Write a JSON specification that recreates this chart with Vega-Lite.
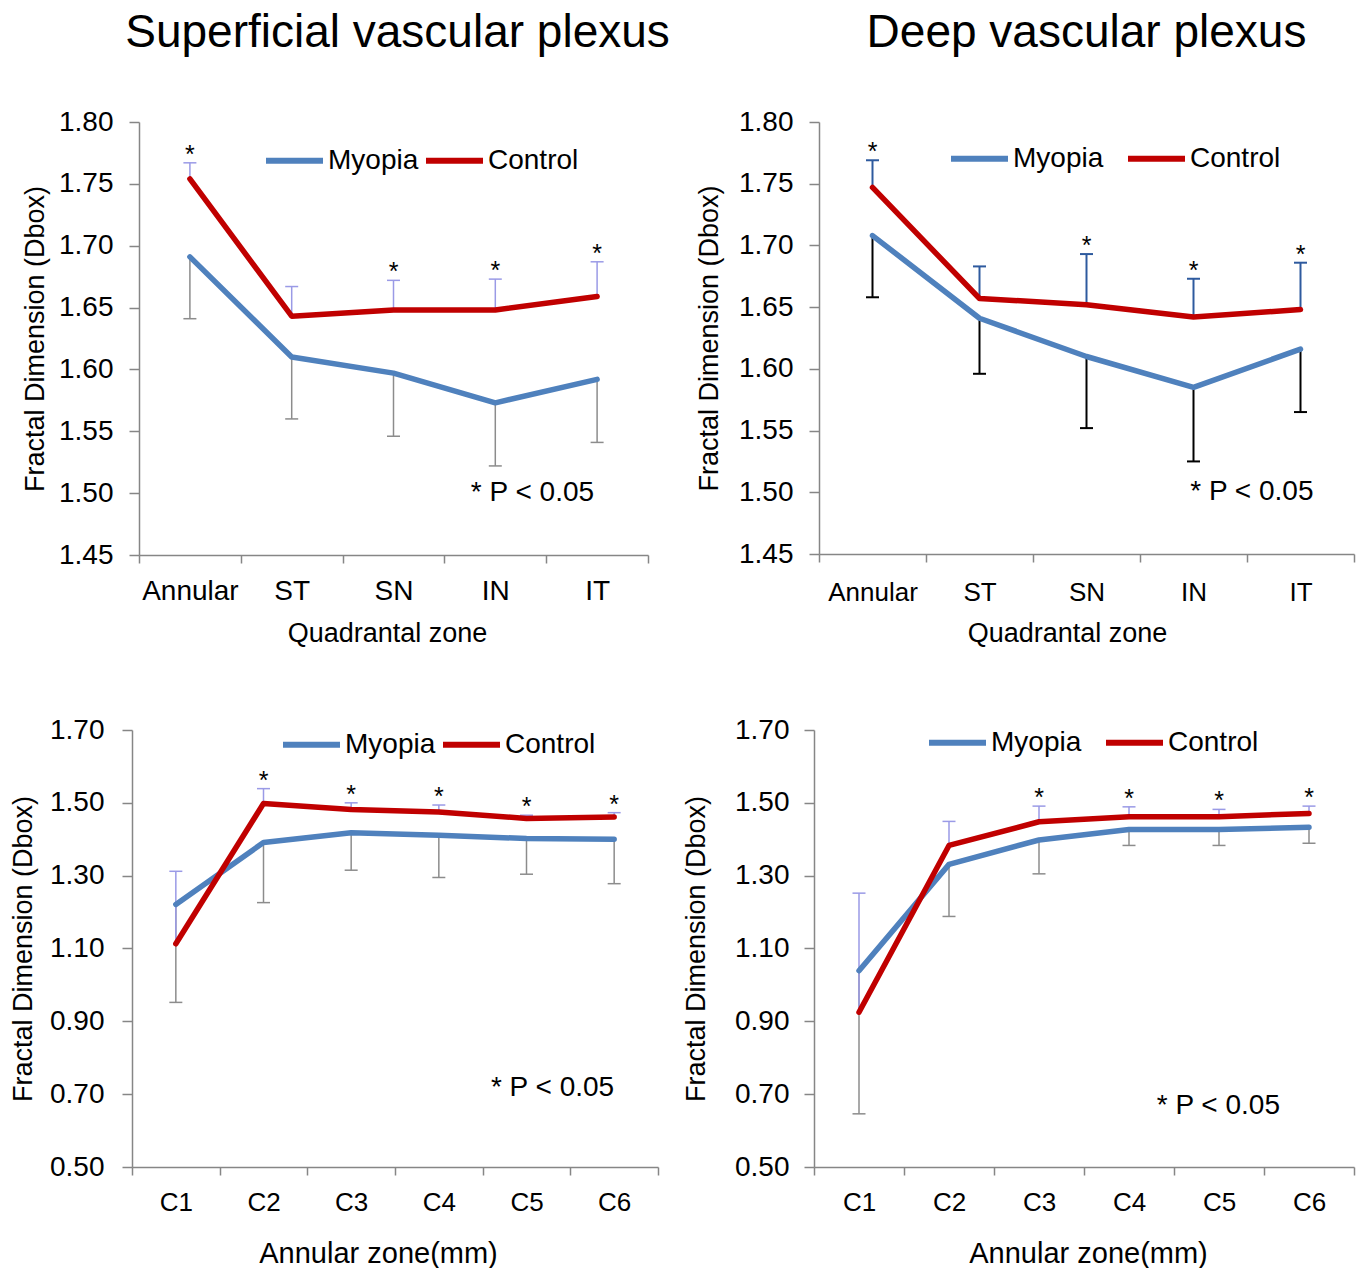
{
  "$schema": "https://vega.github.io/schema/vega-lite/v6.json",
  "background": "white",
  "padding": {"left": 8, "top": 10, "right": 0, "bottom": 0},
  "config": {
    "view": {"stroke": null},
    "font": "Liberation Sans",
    "axis": {"grid": false, "labelFont": "Liberation Sans", "labelFontSize": 28, "labelColor": "#000000",
             "titleFont": "Liberation Sans", "titleFontSize": 27, "titleFontWeight": "normal", "titleColor": "#000000",
             "domainColor": "#868686", "domainWidth": 1.5, "tickColor": "#868686", "tickWidth": 1.5},
    "title": {"font": "Liberation Sans", "fontSize": 46, "fontWeight": "normal", "color": "#000000", "frame": "group", "baseline": "alphabetic", "offset": 51},
    "legend": {"title": null, "symbolType": "stroke", "symbolSize": 3249, "symbolStrokeWidth": 6, "labelFontSize": 28, "labelFont": "Liberation Sans", "labelColor": "#000000", "labelOffset": 2, "padding": 0, "direction": "horizontal", "orient": "none"}
  },
  "datasets": {
    "svpq": [
      {"zone": "Annular", "group": "Myopia", "value": 1.691, "err": 1.641, "sig": ""},
      {"zone": "ST", "group": "Myopia", "value": 1.610, "err": 1.560, "sig": ""},
      {"zone": "SN", "group": "Myopia", "value": 1.597, "err": 1.546, "sig": ""},
      {"zone": "IN", "group": "Myopia", "value": 1.573, "err": 1.522, "sig": ""},
      {"zone": "IT", "group": "Myopia", "value": 1.592, "err": 1.541, "sig": ""},
      {"zone": "Annular", "group": "Control", "value": 1.754, "err": 1.767, "sig": "*"},
      {"zone": "ST", "group": "Control", "value": 1.643, "err": 1.667, "sig": ""},
      {"zone": "SN", "group": "Control", "value": 1.648, "err": 1.672, "sig": "*"},
      {"zone": "IN", "group": "Control", "value": 1.648, "err": 1.673, "sig": "*"},
      {"zone": "IT", "group": "Control", "value": 1.659, "err": 1.687, "sig": "*"}
    ],
    "dvpq": [
      {"zone": "Annular", "group": "Myopia", "value": 1.708, "err": 1.658, "sig": ""},
      {"zone": "ST", "group": "Myopia", "value": 1.641, "err": 1.596, "sig": ""},
      {"zone": "SN", "group": "Myopia", "value": 1.610, "err": 1.552, "sig": ""},
      {"zone": "IN", "group": "Myopia", "value": 1.585, "err": 1.525, "sig": ""},
      {"zone": "IT", "group": "Myopia", "value": 1.616, "err": 1.565, "sig": ""},
      {"zone": "Annular", "group": "Control", "value": 1.747, "err": 1.769, "sig": "*"},
      {"zone": "ST", "group": "Control", "value": 1.657, "err": 1.683, "sig": ""},
      {"zone": "SN", "group": "Control", "value": 1.652, "err": 1.693, "sig": "*"},
      {"zone": "IN", "group": "Control", "value": 1.642, "err": 1.673, "sig": "*"},
      {"zone": "IT", "group": "Control", "value": 1.648, "err": 1.686, "sig": "*"}
    ],
    "svpa": [
      {"zone": "C1", "group": "Myopia", "value": 1.221, "err": 0.952, "sig": ""},
      {"zone": "C2", "group": "Myopia", "value": 1.391, "err": 1.226, "sig": ""},
      {"zone": "C3", "group": "Myopia", "value": 1.418, "err": 1.315, "sig": ""},
      {"zone": "C4", "group": "Myopia", "value": 1.411, "err": 1.295, "sig": ""},
      {"zone": "C5", "group": "Myopia", "value": 1.402, "err": 1.304, "sig": ""},
      {"zone": "C6", "group": "Myopia", "value": 1.400, "err": 1.278, "sig": ""},
      {"zone": "C1", "group": "Control", "value": 1.113, "err": 1.312, "sig": ""},
      {"zone": "C2", "group": "Control", "value": 1.498, "err": 1.539, "sig": "*"},
      {"zone": "C3", "group": "Control", "value": 1.482, "err": 1.500, "sig": "*"},
      {"zone": "C4", "group": "Control", "value": 1.475, "err": 1.494, "sig": "*"},
      {"zone": "C5", "group": "Control", "value": 1.457, "err": 1.466, "sig": "*"},
      {"zone": "C6", "group": "Control", "value": 1.461, "err": 1.473, "sig": "*"}
    ],
    "dvpa": [
      {"zone": "C1", "group": "Myopia", "value": 1.039, "err": 0.646, "sig": ""},
      {"zone": "C2", "group": "Myopia", "value": 1.331, "err": 1.188, "sig": ""},
      {"zone": "C3", "group": "Myopia", "value": 1.398, "err": 1.305, "sig": ""},
      {"zone": "C4", "group": "Myopia", "value": 1.427, "err": 1.383, "sig": ""},
      {"zone": "C5", "group": "Myopia", "value": 1.427, "err": 1.383, "sig": ""},
      {"zone": "C6", "group": "Myopia", "value": 1.433, "err": 1.389, "sig": ""},
      {"zone": "C1", "group": "Control", "value": 0.925, "err": 1.252, "sig": ""},
      {"zone": "C2", "group": "Control", "value": 1.383, "err": 1.449, "sig": ""},
      {"zone": "C3", "group": "Control", "value": 1.448, "err": 1.491, "sig": "*"},
      {"zone": "C4", "group": "Control", "value": 1.462, "err": 1.489, "sig": "*"},
      {"zone": "C5", "group": "Control", "value": 1.462, "err": 1.482, "sig": "*"},
      {"zone": "C6", "group": "Control", "value": 1.471, "err": 1.491, "sig": "*"}
    ]
  },
  "columns": 2,
  "align": "none",
  "bounds": "flush",
  "spacing": {"row": 175, "column": 156},
  "resolve": {"scale": {"x": "independent", "y": "independent"}, "legend": {"color": "independent"}},
  "concat": [
    {
      "width": 531, "height": 433,
      "title": {"text": "Superficial vascular plexus"},
      "data": {"name": "svpq"},
      "encoding": {
        "x": {"field": "zone", "type": "nominal", "sort": ["Annular", "ST", "SN", "IN", "IT"],
              "scale": {"type": "band", "paddingInner": 0, "paddingOuter": 0, "range": [7, 516]},
              "axis": {"title": "Quadrantal zone", "labelAngle": 0, "tickBand": "extent", "tickSize": 8, "labelPadding": 14, "titleX": 255, "titleAlign": "center", "titleY": 78, "titleBaseline": "middle"}},
        "y": {"field": "value", "type": "quantitative", "scale": {"domain": [1.45, 1.8], "nice": false, "zero": false},
              "axis": {"title": "Fractal Dimension (Dbox)", "values": [1.45, 1.5, 1.55, 1.6, 1.65, 1.7, 1.75, 1.8], "format": ".2f", "tickSize": 10, "labelPadding": 16, "offset": -7, "titleX": -104, "titleBaseline": "middle"}}
      },
      "layer": [
        {"transform": [{"filter": "datum.group == 'Myopia'"}], "mark": {"type": "rule", "color": "#8C8C8C", "strokeWidth": 1.5}, "encoding": {"y2": {"field": "err"}}},
        {"transform": [{"filter": "datum.group == 'Myopia'"}], "mark": {"type": "point", "shape": "stroke", "size": 169, "color": "#8C8C8C", "strokeWidth": 1.5, "opacity": 1}, "encoding": {"y": {"field": "err", "type": "quantitative"}}},
        {"transform": [{"filter": "datum.group == 'Control'"}], "mark": {"type": "rule", "color": "#9A9AE6", "strokeWidth": 1.5}, "encoding": {"y2": {"field": "err"}}},
        {"transform": [{"filter": "datum.group == 'Control'"}], "mark": {"type": "point", "shape": "stroke", "size": 169, "color": "#9A9AE6", "strokeWidth": 1.5, "opacity": 1}, "encoding": {"y": {"field": "err", "type": "quantitative"}}},
        {"mark": {"type": "line", "strokeWidth": 5.5, "strokeCap": "round", "strokeJoin": "round"},
         "encoding": {"color": {"field": "group", "type": "nominal", "scale": {"domain": ["Myopia", "Control"], "range": ["#4F81BD", "#C00000"]},
                                "legend": {"legendX": 131, "legendY": 7, "columnPadding": -5}}}},
        {"transform": [{"filter": "datum.sig == '*'"}], "mark": {"type": "text", "fontSize": 25, "baseline": "alphabetic", "color": "#000000"}, "encoding": {"y": {"field": "err", "type": "quantitative"}, "text": {"field": "sig"}}},
        {"transform": [{"filter": "datum.zone == 'IT' && datum.group == 'Control'"}], "mark": {"type": "text", "text": "* P < 0.05", "fontSize": 28, "align": "right", "baseline": "middle", "dx": -3, "color": "#000000"},
         "encoding": {"y": {"datum": 1.5}}}
      ]
    },
    {
      "width": 535, "height": 432,
      "title": {"text": "Deep vascular plexus"},
      "data": {"name": "dvpq"},
      "encoding": {
        "x": {"field": "zone", "type": "nominal", "sort": ["Annular", "ST", "SN", "IN", "IT"],
              "scale": {"type": "band", "paddingInner": 0, "paddingOuter": 0},
              "axis": {"title": "Quadrantal zone", "labelAngle": 0, "labelFontSize": 26, "tickBand": "extent", "tickSize": 8, "labelPadding": 17, "titleX": 248, "titleAlign": "center", "titleY": 79, "titleBaseline": "middle"}},
        "y": {"field": "value", "type": "quantitative", "scale": {"domain": [1.45, 1.8], "nice": false, "zero": false},
              "axis": {"title": "Fractal Dimension (Dbox)", "values": [1.45, 1.5, 1.55, 1.6, 1.65, 1.7, 1.75, 1.8], "format": ".2f", "tickSize": 10, "labelPadding": 16, "titleX": -110, "titleBaseline": "middle"}}
      },
      "layer": [
        {"transform": [{"filter": "datum.group == 'Myopia'"}], "mark": {"type": "rule", "color": "#000000", "strokeWidth": 2}, "encoding": {"y2": {"field": "err"}}},
        {"transform": [{"filter": "datum.group == 'Myopia'"}], "mark": {"type": "point", "shape": "stroke", "size": 169, "color": "#000000", "strokeWidth": 2, "opacity": 1}, "encoding": {"y": {"field": "err", "type": "quantitative"}}},
        {"transform": [{"filter": "datum.group == 'Control'"}], "mark": {"type": "rule", "color": "#2E5A9E", "strokeWidth": 2}, "encoding": {"y2": {"field": "err"}}},
        {"transform": [{"filter": "datum.group == 'Control'"}], "mark": {"type": "point", "shape": "stroke", "size": 169, "color": "#2E5A9E", "strokeWidth": 2, "opacity": 1}, "encoding": {"y": {"field": "err", "type": "quantitative"}}},
        {"mark": {"type": "line", "strokeWidth": 5.5, "strokeCap": "round", "strokeJoin": "round"},
         "encoding": {"color": {"field": "group", "type": "nominal", "scale": {"domain": ["Myopia", "Control"], "range": ["#4F81BD", "#C00000"]},
                                "legend": {"legendX": 129, "legendY": 5, "columnPadding": 12}}}},
        {"transform": [{"filter": "datum.sig == '*'"}], "mark": {"type": "text", "fontSize": 25, "baseline": "alphabetic", "color": "#000000"}, "encoding": {"y": {"field": "err", "type": "quantitative"}, "text": {"field": "sig"}}},
        {"transform": [{"filter": "datum.zone == 'IT' && datum.group == 'Control'"}], "mark": {"type": "text", "text": "* P < 0.05", "fontSize": 28, "align": "right", "baseline": "middle", "dx": 13, "color": "#000000"},
         "encoding": {"y": {"datum": 1.5}}}
      ]
    },
    {
      "width": 526, "height": 437,
      "data": {"name": "svpa"},
      "encoding": {
        "x": {"field": "zone", "type": "nominal", "sort": ["C1", "C2", "C3", "C4", "C5", "C6"],
              "scale": {"type": "band", "paddingInner": 0, "paddingOuter": 0},
              "axis": {"title": "Annular zone(mm)", "titleFontSize": 29, "labelAngle": 0, "labelFontSize": 26, "tickBand": "extent", "tickSize": 8, "labelPadding": 14, "titleX": 246, "titleAlign": "center", "titleY": 86, "titleBaseline": "middle"}},
        "y": {"field": "value", "type": "quantitative", "scale": {"domain": [0.5, 1.7], "nice": false, "zero": false},
              "axis": {"title": "Fractal Dimension (Dbox)", "values": [0.5, 0.7, 0.9, 1.1, 1.3, 1.5, 1.7], "format": ".2f", "tickSize": 10, "labelPadding": 18, "titleX": -109, "titleBaseline": "middle"}}
      },
      "layer": [
        {"transform": [{"filter": "datum.group == 'Myopia'"}], "mark": {"type": "rule", "color": "#8C8C8C", "strokeWidth": 1.5}, "encoding": {"y2": {"field": "err"}}},
        {"transform": [{"filter": "datum.group == 'Myopia'"}], "mark": {"type": "point", "shape": "stroke", "size": 169, "color": "#8C8C8C", "strokeWidth": 1.5, "opacity": 1}, "encoding": {"y": {"field": "err", "type": "quantitative"}}},
        {"transform": [{"filter": "datum.group == 'Control'"}], "mark": {"type": "rule", "color": "#9A9AE6", "strokeWidth": 1.5}, "encoding": {"y2": {"field": "err"}}},
        {"transform": [{"filter": "datum.group == 'Control'"}], "mark": {"type": "point", "shape": "stroke", "size": 169, "color": "#9A9AE6", "strokeWidth": 1.5, "opacity": 1}, "encoding": {"y": {"field": "err", "type": "quantitative"}}},
        {"mark": {"type": "line", "strokeWidth": 5.5, "strokeCap": "round", "strokeJoin": "round"},
         "encoding": {"color": {"field": "group", "type": "nominal", "scale": {"domain": ["Myopia", "Control"], "range": ["#4F81BD", "#C00000"]},
                                "legend": {"legendX": 148, "legendY": -17, "columnPadding": -5}}}},
        {"transform": [{"filter": "datum.sig == '*'"}], "mark": {"type": "text", "fontSize": 25, "baseline": "alphabetic", "color": "#000000"}, "encoding": {"y": {"field": "err", "type": "quantitative"}, "text": {"field": "sig"}}},
        {"transform": [{"filter": "datum.zone == 'C6' && datum.group == 'Control'"}], "mark": {"type": "text", "text": "* P < 0.05", "fontSize": 28, "align": "right", "baseline": "middle", "color": "#000000"},
         "encoding": {"y": {"datum": 0.717}}}
      ]
    },
    {
      "width": 535, "height": 437,
      "data": {"name": "dvpa"},
      "encoding": {
        "x": {"field": "zone", "type": "nominal", "sort": ["C1", "C2", "C3", "C4", "C5", "C6"],
              "scale": {"type": "band", "paddingInner": 0, "paddingOuter": 0, "range": [-5, 535]},
              "axis": {"title": "Annular zone(mm)", "titleFontSize": 29, "labelAngle": 0, "labelFontSize": 26, "tickBand": "extent", "tickSize": 8, "labelPadding": 14, "titleX": 269, "titleAlign": "center", "titleY": 86, "titleBaseline": "middle"}},
        "y": {"field": "value", "type": "quantitative", "scale": {"domain": [0.5, 1.7], "nice": false, "zero": false},
              "axis": {"title": "Fractal Dimension (Dbox)", "values": [0.5, 0.7, 0.9, 1.1, 1.3, 1.5, 1.7], "format": ".2f", "tickSize": 10, "labelPadding": 15, "offset": 5, "titleX": -118, "titleBaseline": "middle"}}
      },
      "layer": [
        {"transform": [{"filter": "datum.group == 'Myopia'"}], "mark": {"type": "rule", "color": "#8C8C8C", "strokeWidth": 1.5}, "encoding": {"y2": {"field": "err"}}},
        {"transform": [{"filter": "datum.group == 'Myopia'"}], "mark": {"type": "point", "shape": "stroke", "size": 169, "color": "#8C8C8C", "strokeWidth": 1.5, "opacity": 1}, "encoding": {"y": {"field": "err", "type": "quantitative"}}},
        {"transform": [{"filter": "datum.group == 'Control'"}], "mark": {"type": "rule", "color": "#9A9AE6", "strokeWidth": 1.5}, "encoding": {"y2": {"field": "err"}}},
        {"transform": [{"filter": "datum.group == 'Control'"}], "mark": {"type": "point", "shape": "stroke", "size": 169, "color": "#9A9AE6", "strokeWidth": 1.5, "opacity": 1}, "encoding": {"y": {"field": "err", "type": "quantitative"}}},
        {"mark": {"type": "line", "strokeWidth": 5.5, "strokeCap": "round", "strokeJoin": "round"},
         "encoding": {"color": {"field": "group", "type": "nominal", "scale": {"domain": ["Myopia", "Control"], "range": ["#4F81BD", "#C00000"]},
                                "legend": {"legendX": 107, "legendY": -19, "columnPadding": 12}}}},
        {"transform": [{"filter": "datum.sig == '*'"}], "mark": {"type": "text", "fontSize": 25, "baseline": "alphabetic", "color": "#000000"}, "encoding": {"y": {"field": "err", "type": "quantitative"}, "text": {"field": "sig"}}},
        {"transform": [{"filter": "datum.zone == 'C6' && datum.group == 'Control'"}], "mark": {"type": "text", "text": "* P < 0.05", "fontSize": 28, "align": "right", "baseline": "middle", "dx": -29, "color": "#000000"},
         "encoding": {"y": {"datum": 0.667}}}
      ]
    }
  ]
}
